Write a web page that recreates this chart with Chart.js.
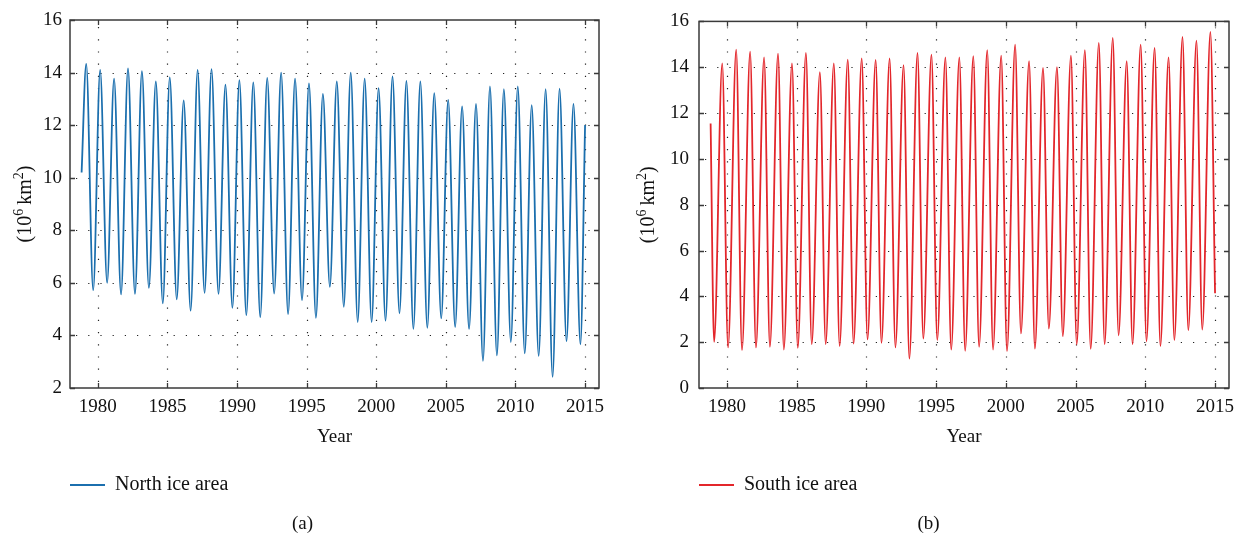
<!DOCTYPE html>
<html>
<head>
  <meta charset="UTF-8" />
  <title>North and south ice area</title>
  <style>
    body { margin: 0; background: #fff; }
    .panel { position: absolute; top: 0; }
    #panelA { left: 0; }
    #panelB { left: 622px; }
  </style>
</head>
<body>
  <div class="panel" id="panelA"><canvas id="northChart" width="622" height="539"></canvas></div>
  <div class="panel" id="panelB"><canvas id="southChart" width="623" height="539"></canvas></div>

  <script src="https://cdn.jsdelivr.net/npm/chart.js"></script>
  <script>
    // yearly extremes, 10^6 km^2
    const years = [1979, 1980, 1981, 1982, 1983, 1984, 1985, 1986, 1987, 1988, 1989, 1990,
                   1991, 1992, 1993, 1994, 1995, 1996, 1997, 1998, 1999, 2000, 2001, 2002,
                   2003, 2004, 2005, 2006, 2007, 2008, 2009, 2010, 2011, 2012, 2013, 2014];

    // north: max in March, min in September
    const northMax = [14.33, 14.10, 13.77, 14.16, 14.05, 13.66, 13.82, 12.94, 14.10, 14.13, 13.54, 13.71,
                      13.63, 13.80, 14.00, 13.77, 13.59, 13.19, 13.66, 14.00, 13.77, 13.41, 13.85, 13.68,
                      13.66, 13.22, 12.96, 12.71, 12.81, 13.47, 13.37, 13.47, 12.76, 13.37, 13.39, 12.81];
    const northMin = [5.72, 6.00, 5.56, 5.58, 5.81, 5.22, 5.37, 4.94, 5.62, 5.58, 5.05, 4.77,
                      4.70, 5.59, 4.81, 5.34, 4.67, 5.85, 5.09, 4.51, 4.51, 4.56, 4.84, 4.25,
                      4.29, 4.65, 4.32, 4.25, 3.03, 3.24, 3.75, 3.32, 3.22, 2.42, 3.78, 3.66];
    const northMaxMonth = 3, northMinMonth = 9;
    const northStart = [1978, 11, 10.2];   // year, month, value
    const northEnd = [2015, 1, 12.0];

    // south: min in February, max in September
    const southMin = [2.01, 1.77, 1.65, 1.77, 1.80, 1.68, 1.75, 1.91, 1.91, 1.83, 1.94, 2.12,
                      1.97, 1.77, 1.28, 2.16, 2.09, 1.68, 1.62, 1.80, 1.68, 1.61, 2.38, 1.72,
                      2.59, 2.26, 1.91, 1.71, 1.91, 2.30, 1.91, 2.04, 1.83, 2.09, 2.52, 2.55];
    const southMax = [14.17, 14.77, 14.68, 14.43, 14.59, 14.17, 14.62, 13.78, 14.17, 14.33, 14.39, 14.32,
                      14.38, 14.09, 14.62, 14.55, 14.43, 14.43, 14.48, 14.74, 14.51, 14.99, 14.26, 13.97,
                      14.00, 14.51, 14.75, 15.06, 15.28, 14.26, 14.99, 14.84, 14.43, 15.32, 15.16, 15.54];
    const southMinMonth = 2, southMaxMonth = 9;
    const southStart = [1978, 11, 11.54];
    const southEnd = [2015, 1, 4.14];

    const xTicks = [1980, 1985, 1990, 1995, 2000, 2005, 2010, 2015];

    const toX = (yr, month) => yr + (month - 1) / 12;

    function seriesPoints(start, first, firstMonth, second, secondMonth, end) {
      const pts = [{ x: toX(start[0], start[1]), y: start[2] }];
      years.forEach((yr, i) => {
        pts.push({ x: toX(yr, firstMonth), y: first[i] });
        pts.push({ x: toX(yr, secondMonth), y: second[i] });
      });
      pts.push({ x: toX(end[0], end[1]), y: end[2] });
      return pts;
    }

    const northPoints = seriesPoints(northStart, northMax, northMaxMonth, northMin, northMinMonth, northEnd);
    const southPoints = seriesPoints(southStart, southMin, southMinMonth, southMax, southMaxMonth, southEnd);

    const serif = "'Liberation Serif', 'Times New Roman', serif";
    const textColor = '#111';

    // dotted grid under the data, framed box with inward ticks on top,
    // and the y title with real superscripts
    const boxPlugin = {
      id: 'boxPlugin',
      beforeDatasetsDraw(chart) {
        const { ctx, chartArea: a, scales: { x, y } } = chart;
        ctx.save();
        ctx.strokeStyle = '#222';
        ctx.lineWidth = 1.2;
        ctx.setLineDash([1.2, 11]);
        x.ticks.forEach(t => {
          const px = Math.round(x.getPixelForValue(t.value)) + 0.5;
          ctx.beginPath(); ctx.moveTo(px, a.bottom - 6); ctx.lineTo(px, a.top + 6); ctx.stroke();
        });
        y.ticks.forEach(t => {
          if (t.value <= y.min || t.value >= y.max) return;
          const py = Math.round(y.getPixelForValue(t.value)) + 0.5;
          ctx.beginPath(); ctx.moveTo(a.left + 6, py); ctx.lineTo(a.right - 6, py); ctx.stroke();
        });
        ctx.restore();
      },
      afterDatasetsDraw(chart, args, opts) {
        const { ctx, chartArea: a, scales: { x, y } } = chart;
        ctx.save();
        ctx.strokeStyle = '#3a3a3a';
        ctx.lineWidth = 1.5;
        ctx.strokeRect(a.left, a.top, a.right - a.left, a.bottom - a.top);
        ctx.lineWidth = 1.3;
        ctx.beginPath();
        x.ticks.forEach(t => {
          const px = Math.round(x.getPixelForValue(t.value)) + 0.5;
          ctx.moveTo(px, a.bottom); ctx.lineTo(px, a.bottom - 5);
          ctx.moveTo(px, a.top); ctx.lineTo(px, a.top + 5);
        });
        y.ticks.forEach(t => {
          const py = Math.round(y.getPixelForValue(t.value)) + 0.5;
          ctx.moveTo(a.left, py); ctx.lineTo(a.left + 5, py);
          ctx.moveTo(a.right, py); ctx.lineTo(a.right - 5, py);
        });
        ctx.stroke();

        // y axis title: (10^6 km^2)
        const parts = [['(10', 20, 0], ['6', 14, -8], ['\u2009km', 20, 0], ['2', 14, -8], [')', 20, 0]];
        let total = 0;
        parts.forEach(p => { ctx.font = p[1] + 'px ' + serif; total += ctx.measureText(p[0]).width; });
        ctx.translate(y.left + opts.titleOffset, (a.top + a.bottom) / 2);
        ctx.rotate(-Math.PI / 2);
        ctx.fillStyle = textColor;
        ctx.textBaseline = 'alphabetic';
        let cx = -total / 2;
        parts.forEach(p => {
          ctx.font = p[1] + 'px ' + serif;
          ctx.fillText(p[0], cx, 6 + p[2]);
          cx += ctx.measureText(p[0]).width;
        });
        ctx.restore();
      }
    };

    function makePanel(id, points, color, label, panelName, yMin, cfg) {
      return new Chart(document.getElementById(id), {
        type: 'line',
        data: {
          datasets: [{
            label: label,
            data: points,
            borderColor: color,
            backgroundColor: color,
            borderWidth: 1.8,
            pointRadius: 0,
            cubicInterpolationMode: 'monotone'
          }]
        },
        options: {
          responsive: false,
          animation: false,
          layout: { padding: { left: 6, right: cfg.padRight, top: 20, bottom: 0 } },
          plugins: {
            legend: {
              position: 'bottom',
              align: 'start',
              fullSize: false,
              labels: { boxWidth: 35, boxHeight: 0, padding: 0, color: textColor, font: { family: serif, size: 20 } }
            },
            title: {
              display: true,
              text: panelName,
              position: 'bottom',
              color: textColor,
              font: { family: serif, size: 19, weight: 'normal' },
              padding: { top: 7.6, bottom: 3.6 }
            },
            tooltip: { enabled: false },
            boxPlugin: { titleOffset: cfg.titleOffset }
          },
          scales: {
            x: {
              type: 'linear',
              min: 1978,
              max: 2016,
              afterBuildTicks: s => { s.ticks = xTicks.map(v => ({ value: v })); },
              afterFit: s => { s.height = 87; },
              ticks: { padding: 8, color: textColor, font: { family: serif, size: 19 }, maxRotation: 0, callback: v => String(v) },
              grid: { display: false, drawTicks: false },
              border: { display: false },
              title: { display: true, text: 'Year', color: textColor, font: { family: serif, size: 19 }, padding: { top: 0, bottom: 26.6 } }
            },
            y: {
              min: yMin,
              max: 16,
              afterFit: s => { s.width = cfg.yWidth; },
              ticks: { stepSize: 2, padding: cfg.tickPad, color: textColor, font: { family: serif, size: 19 } },
              grid: { display: false, drawTicks: false },
              border: { display: false }
            }
          }
        },
        plugins: [boxPlugin]
      });
    }

    makePanel('northChart', northPoints, '#1b6fae', 'North ice area', '(a)', 2,
      { padRight: 23, yWidth: 64, tickPad: 8, titleOffset: 19 });
    makePanel('southChart', southPoints, '#e3262b', 'South ice area', '(b)', 0,
      { padRight: 16, yWidth: 71, tickPad: 10, titleOffset: 20 });
  </script>
</body>
</html>
